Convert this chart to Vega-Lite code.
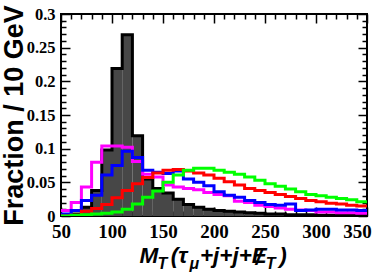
{
  "$schema": "https://vega.github.io/schema/vega-lite/v6.json",
  "autosize": {"type": "none"},
  "width": 306,
  "height": 202,
  "padding": {"left": 61, "top": 14, "right": 15, "bottom": 57},
  "background": "white",
  "config": {
    "view": {"stroke": "black", "strokeWidth": 2},
    "axis": {"domain": false, "grid": false, "tickColor": "black", "tickWidth": 1.5, "labelFont": "Liberation Sans Narrow", "labelFontWeight": "bold", "labelColor": "black", "titleColor": "black", "labelOverlap": false, "labelFlush": false}
  },
  "data": {"values": [
    {"lo": 50, "hi": 60, "black": 0.001, "magenta": 0.008, "blue": 0.003, "red": 0.000, "green": 0.000},
    {"lo": 60, "hi": 70, "black": 0.003, "magenta": 0.020, "blue": 0.008, "red": 0.001, "green": 0.001},
    {"lo": 70, "hi": 80, "black": 0.013, "magenta": 0.043, "blue": 0.023, "red": 0.007, "green": 0.002},
    {"lo": 80, "hi": 90, "black": 0.038, "magenta": 0.080, "blue": 0.031, "red": 0.011, "green": 0.003},
    {"lo": 90, "hi": 100, "black": 0.098, "magenta": 0.104, "blue": 0.061, "red": 0.017, "green": 0.004},
    {"lo": 100, "hi": 110, "black": 0.219, "magenta": 0.104, "blue": 0.075, "red": 0.027, "green": 0.006},
    {"lo": 110, "hi": 120, "black": 0.269, "magenta": 0.102, "blue": 0.096, "red": 0.038, "green": 0.010},
    {"lo": 120, "hi": 130, "black": 0.119, "magenta": 0.081, "blue": 0.087, "red": 0.048, "green": 0.018},
    {"lo": 130, "hi": 140, "black": 0.055, "magenta": 0.062, "blue": 0.068, "red": 0.057, "green": 0.028},
    {"lo": 140, "hi": 150, "black": 0.041, "magenta": 0.058, "blue": 0.065, "red": 0.064, "green": 0.037},
    {"lo": 150, "hi": 160, "black": 0.034, "magenta": 0.046, "blue": 0.063, "red": 0.068, "green": 0.050},
    {"lo": 160, "hi": 170, "black": 0.025, "magenta": 0.043, "blue": 0.067, "red": 0.069, "green": 0.061},
    {"lo": 170, "hi": 180, "black": 0.017, "magenta": 0.041, "blue": 0.055, "red": 0.067, "green": 0.068},
    {"lo": 180, "hi": 190, "black": 0.013, "magenta": 0.039, "blue": 0.050, "red": 0.064, "green": 0.071},
    {"lo": 190, "hi": 200, "black": 0.010, "magenta": 0.035, "blue": 0.045, "red": 0.061, "green": 0.071},
    {"lo": 200, "hi": 210, "black": 0.008, "magenta": 0.032, "blue": 0.036, "red": 0.056, "green": 0.068},
    {"lo": 210, "hi": 220, "black": 0.007, "magenta": 0.030, "blue": 0.031, "red": 0.051, "green": 0.065},
    {"lo": 220, "hi": 230, "black": 0.006, "magenta": 0.022, "blue": 0.028, "red": 0.046, "green": 0.062},
    {"lo": 230, "hi": 240, "black": 0.005, "magenta": 0.020, "blue": 0.023, "red": 0.041, "green": 0.058},
    {"lo": 240, "hi": 250, "black": 0.004, "magenta": 0.016, "blue": 0.020, "red": 0.038, "green": 0.053},
    {"lo": 250, "hi": 260, "black": 0.003, "magenta": 0.014, "blue": 0.017, "red": 0.035, "green": 0.048},
    {"lo": 260, "hi": 270, "black": 0.003, "magenta": 0.012, "blue": 0.016, "red": 0.032, "green": 0.044},
    {"lo": 270, "hi": 280, "black": 0.002, "magenta": 0.010, "blue": 0.018, "red": 0.029, "green": 0.040},
    {"lo": 280, "hi": 290, "black": 0.002, "magenta": 0.009, "blue": 0.008, "red": 0.026, "green": 0.036},
    {"lo": 290, "hi": 300, "black": 0.002, "magenta": 0.008, "blue": 0.009, "red": 0.023, "green": 0.032},
    {"lo": 300, "hi": 310, "black": 0.001, "magenta": 0.006, "blue": 0.010, "red": 0.021, "green": 0.030},
    {"lo": 310, "hi": 320, "black": 0.001, "magenta": 0.006, "blue": 0.010, "red": 0.019, "green": 0.028},
    {"lo": 320, "hi": 330, "black": 0.001, "magenta": 0.005, "blue": 0.009, "red": 0.018, "green": 0.026},
    {"lo": 330, "hi": 340, "black": 0.001, "magenta": 0.005, "blue": 0.009, "red": 0.016, "green": 0.024},
    {"lo": 340, "hi": 350, "black": 0.001, "magenta": 0.004, "blue": 0.008, "red": 0.015, "green": 0.021},
    {"lo": 350, "hi": 350, "black": 0.001, "magenta": 0.004, "blue": 0.008, "red": 0.015, "green": 0.021}
  ]},
  "resolve": {"axis": {"x": "independent", "y": "independent"}},
  "layer": [
    {
      "transform": [{"filter": "datum.lo < 350"}],
      "mark": {"type": "bar", "color": "#474747", "clip": true},
      "encoding": {
        "x": {"field": "lo", "type": "quantitative", "scale": {"domain": [50, 350], "nice": false, "zero": false},
          "axis": {"orient": "bottom", "values": [50,60,70,80,90,100,110,120,130,140,150,160,170,180,190,200,210,220,230,240,250,260,270,280,290,300,310,320,330,340,350],
            "tickSize": {"condition": {"test": "datum.value % 50 === 0", "value": -9}, "value": -5},
            "labelExpr": "datum.value % 50 === 0 ? format(datum.value, 'd') : ''",
            "labelFontSize": 19, "labelPadding": 15,
            "labelOffset": {"condition": {"test": "datum.value === 350", "value": -10}, "value": 0},
            "title": "M\u00a0\u00a0(τ\u00a0\u00a0+j+j+E\u00a0\u00a0)",
            "titleFont": "Liberation Sans", "titleFontSize": 22.5, "titleFontWeight": "bold", "titleFontStyle": "italic",
            "titleX": 78, "titleY": 46, "titleAlign": "left", "titleBaseline": "alphabetic"}},
        "x2": {"field": "hi"},
        "y": {"field": "black", "type": "quantitative", "scale": {"domain": [0, 0.3], "nice": false, "zero": true},
          "axis": {"orient": "left", "values": [0,0.01,0.02,0.03,0.04,0.05,0.06,0.07,0.08,0.09,0.1,0.11,0.12,0.13,0.14,0.15,0.16,0.17,0.18,0.19,0.2,0.21,0.22,0.23,0.24,0.25,0.26,0.27,0.28,0.29,0.3],
            "tickSize": {"condition": {"test": "round(datum.value*100) % 5 === 0", "value": -9}, "value": -5},
            "labelExpr": "round(datum.value*100) % 5 === 0 ? format(datum.value, '~g') : ''",
            "labelFontSize": 16.5, "labelPadding": 15,
            "title": "Fraction / 10 GeV",
            "titleFont": "Liberation Sans", "titleFontSize": 27, "titleFontWeight": "bold",
            "titleAngle": 270, "titleX": -39, "titleY": 101, "titleAlign": "center", "titleBaseline": "alphabetic"}},
        "y2": {"datum": 0}
      }
    },
    {
      "mark": {"type": "line", "interpolate": "step-after", "stroke": "black", "strokeWidth": 3, "clip": true},
      "encoding": {
        "x": {"field": "lo", "type": "quantitative", "scale": {"domain": [50, 350], "nice": false, "zero": false}, "axis": null},
        "y": {"field": "black", "type": "quantitative", "scale": {"domain": [0, 0.3], "nice": false, "zero": true}, "axis": null}
      }
    },
    {
      "transform": [{"fold": ["magenta", "blue", "red", "green"], "as": ["s", "f"]}],
      "mark": {"type": "line", "interpolate": "step-after", "strokeWidth": 3, "clip": true},
      "encoding": {
        "x": {"field": "lo", "type": "quantitative", "scale": {"domain": [50, 350], "nice": false, "zero": false},
          "axis": {"orient": "top", "values": [50,60,70,80,90,100,110,120,130,140,150,160,170,180,190,200,210,220,230,240,250,260,270,280,290,300,310,320,330,340,350],
            "tickSize": {"condition": {"test": "datum.value % 50 === 0", "value": -9}, "value": -5},
            "labels": false,
            "title": "T\u00a0\u00a0\u00a0\u00a0\u00a0μ\u00a0\u00a0\u00a0\u00a0\u00a0\u00a0\u00a0\u00a0\u00a0\u00a0\u00a0\u00a0\u00a0\u00a0\u00a0T",
            "titleFont": "Liberation Sans", "titleFontSize": 16, "titleFontWeight": "bold", "titleFontStyle": "italic",
            "titleX": 96, "titleY": 254, "titleAlign": "left", "titleBaseline": "alphabetic"}},
        "y": {"field": "f", "type": "quantitative", "scale": {"domain": [0, 0.3], "nice": false, "zero": true},
          "axis": {"orient": "right", "values": [0,0.01,0.02,0.03,0.04,0.05,0.06,0.07,0.08,0.09,0.1,0.11,0.12,0.13,0.14,0.15,0.16,0.17,0.18,0.19,0.2,0.21,0.22,0.23,0.24,0.25,0.26,0.27,0.28,0.29,0.3],
            "tickSize": {"condition": {"test": "round(datum.value*100) % 5 === 0", "value": -9}, "value": -5},
            "labels": false,
            "title": "/",
            "titleFont": "Liberation Sans", "titleFontSize": 22.5, "titleFontWeight": "bold", "titleFontStyle": "italic",
            "titleAngle": 0, "titleX": -112, "titleY": 250, "titleAlign": "left", "titleBaseline": "alphabetic"}},
        "color": {"field": "s", "type": "nominal", "scale": {"domain": ["magenta", "blue", "red", "green"], "range": ["#ff00ff", "#0000ff", "#ff0000", "#00ff00"]}, "legend": null}
      }
    }
  ]
}
